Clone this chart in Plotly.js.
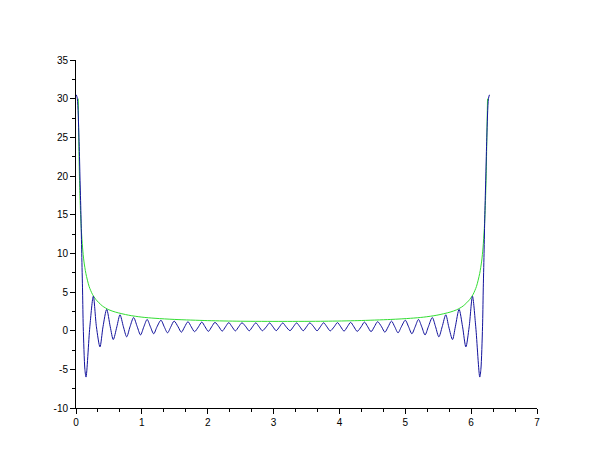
<!DOCTYPE html>
<html>
<head>
<meta charset="utf-8">
<script src="https://cdn.plot.ly/plotly-3.0.1.min.js"></script>
<style>html,body{margin:0;padding:0;background:#fff;}#chart{width:614px;height:466px;}</style>
</head>
<body>
<div id="chart"></div>
<script>
// Blue oscillating curve
var blueX = [0.005, 0.02, 0.045, 0.06, 0.075, 0.087, 0.10, 0.11, 0.135, 0.152,
  0.21, 0.263, 0.31, 0.364, 0.41, 0.466, 0.52, 0.566, 0.62, 0.668,
  0.72, 0.77, 0.82, 0.875, 0.93, 0.98, 1.03, 1.08, 1.13, 1.18,
  1.23, 1.29, 1.34, 1.39, 1.44, 1.49, 1.55, 1.60, 1.65, 1.70,
  1.75, 1.80, 1.86, 1.91, 1.96, 2.01, 2.06, 2.11, 2.17, 2.22,
  2.27, 2.32, 2.37, 2.42, 2.47, 2.52, 2.58, 2.63, 2.68, 2.73,
  2.78, 2.83, 2.89, 2.94, 2.99, 3.04, 3.09, 3.14,
  3.19, 3.25, 3.30, 3.35, 3.40, 3.45, 3.50, 3.55, 3.61, 3.66,
  3.71, 3.76, 3.81, 3.86, 3.92, 3.97, 4.02, 4.07, 4.12, 4.17,
  4.22, 4.27, 4.33, 4.38, 4.43, 4.48, 4.53, 4.58, 4.64, 4.69,
  4.74, 4.79, 4.84, 4.89, 4.94, 5.00, 5.05, 5.10, 5.15, 5.20,
  5.25, 5.30, 5.35, 5.41, 5.46, 5.51, 5.56, 5.615, 5.66, 5.717,
  5.76, 5.817, 5.87, 5.92, 5.97, 6.02, 6.07, 6.131, 6.148, 6.173,
  6.183, 6.196, 6.208, 6.223, 6.238, 6.263, 6.278];
var blueY = [30.5, 30.0, 25, 20, 15, 10, 5, 0.5, -5, -6.0,
  0.5, 4.45, 0.5, -2.1, 0.5, 2.75, 0.5, -1.15, 0.5, 2.05,
  0.5, -0.8, 0.5, 1.7, 0.5, -0.55, 0.5, 1.45, 0.5, -0.4,
  0.5, 1.35, 0.5, -0.28, 0.5, 1.24, 0.5, -0.2, 0.5, 1.16,
  0.5, -0.13, 0.5, 1.11, 0.5, -0.09, 0.5, 1.07, 0.5, -0.06,
  0.5, 1.04, 0.5, -0.03, 0.5, 1.02, 0.5, -0.02, 0.5, 1.01,
  0.5, -0.01, 0.5, 1.0, 0.5, 0.0, 0.5, 1.0,
  0.5, 0.0, 0.5, 1.0, 0.5, -0.01, 0.5, 1.01, 0.5, -0.02,
  0.5, 1.02, 0.5, -0.03, 0.5, 1.04, 0.5, -0.06, 0.5, 1.07,
  0.5, -0.09, 0.5, 1.11, 0.5, -0.13, 0.5, 1.16, 0.5, -0.2,
  0.5, 1.24, 0.5, -0.28, 0.5, 1.35, 0.5, -0.4, 0.5, 1.45,
  0.5, -0.55, 0.5, 1.7, 0.5, -0.8, 0.5, 2.05, 0.5, -1.15,
  0.5, 2.75, 0.5, -2.1, 0.5, 4.45, 0.5, -6.0, -5, 0.5,
  5, 10, 15, 20, 25, 30.0, 30.5];

// Green envelope curve
var greenX = [0.034, 0.04, 0.05, 0.06, 0.07, 0.08, 0.10, 0.12, 0.15, 0.20,
  0.25, 0.30, 0.40, 0.50, 0.60, 0.80, 1.00, 1.20, 1.50, 2.00, 2.50, 3.14,
  3.78, 4.28, 4.78, 5.08, 5.28, 5.48, 5.68, 5.78, 5.88, 5.98, 6.03, 6.08,
  6.13, 6.16, 6.18, 6.20, 6.21, 6.22, 6.23, 6.24, 6.249];
var greenY = [30, 25.7, 20.7, 17.4, 15.0, 13.2, 10.7, 9.0, 7.4, 5.7,
  4.7, 4.05, 3.2, 2.7, 2.4, 2.0, 1.75, 1.6, 1.45, 1.3, 1.22, 1.2,
  1.22, 1.3, 1.45, 1.6, 1.75, 2.0, 2.4, 2.7, 3.2, 4.05, 4.7, 5.7,
  7.4, 9.0, 10.7, 13.2, 15.0, 17.4, 20.7, 25.7, 30];

var xTicks = [0, 1, 2, 3, 4, 5, 6, 7];
var yTicks = [-10, -5, 0, 5, 10, 15, 20, 25, 30, 35];

var traces = [
  {x: greenX, y: greenY, type: 'scatter', mode: 'lines',
   line: {color: '#33dd33', width: 1, shape: 'spline', smoothing: 0.8}, hoverinfo: 'skip'},
  {x: blueX, y: blueY, type: 'scatter', mode: 'lines',
   line: {color: '#12129c', width: 1, shape: 'spline', smoothing: 0.8}, hoverinfo: 'skip'}
];

var axisCommon = {
  showgrid: false, zeroline: false, showline: true, linecolor: '#000', linewidth: 1,
  ticks: 'outside', ticklen: 5, tickcolor: '#000', tickwidth: 1,
  tickfont: {family: 'Liberation Sans, Arial, sans-serif', size: 10, color: '#000'},
  mirror: false
};

var layout = {
  width: 614, height: 466,
  margin: {l: 76, r: 77, t: 60, b: 58},
  paper_bgcolor: '#fff', plot_bgcolor: '#fff',
  showlegend: false,
  xaxis: Object.assign({}, axisCommon, {
    range: [0, 7], tickmode: 'array', tickvals: xTicks, ticktext: xTicks.map(String),
    minor: {dtick: 1/3, tick0: 0, ticklen: 3, ticks: 'outside', tickcolor: '#000', showgrid: false}
  }),
  yaxis: Object.assign({}, axisCommon, {
    range: [-10, 35], tickmode: 'array', tickvals: yTicks, ticktext: yTicks.map(String),
    minor: {dtick: 2.5, tick0: 0, ticklen: 3, ticks: 'outside', tickcolor: '#000', showgrid: false}
  })
};

Plotly.newPlot('chart', traces, layout, {staticPlot: true, displayModeBar: false});
</script>
</body>
</html>
